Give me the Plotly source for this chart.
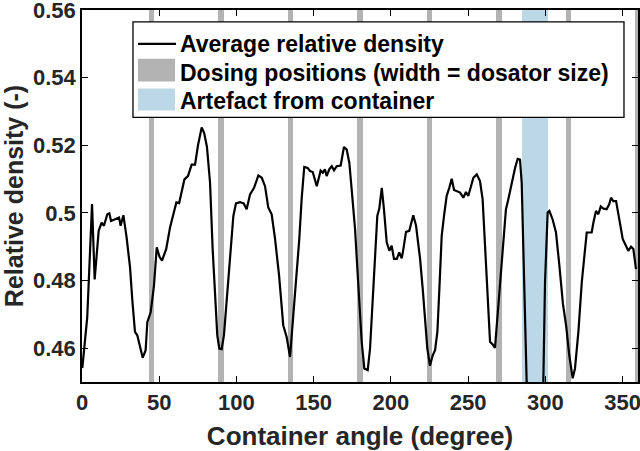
import plotly.graph_objects as go

# Average relative density around the container
angle_deg = [
    0.2, 3.4, 6.5, 8.2, 10.8, 12.7, 14.2, 16.4, 17.7, 18.8, 21.4, 24.0, 25.0, 26.8,
    28.9, 31.1, 32.6, 34.3, 35.8, 37.6, 39.3, 41.2, 42.3, 44.5, 46.6, 48.4, 50.2,
    51.8, 54.5, 57.0, 59.1, 61.1, 62.9, 64.5, 66.3, 68.6, 71.0, 73.2, 75.1, 77.5,
    79.1, 80.9, 82.9, 84.6, 86.1, 87.6, 88.9, 90.4, 91.9, 93.7, 95.8, 98.0, 99.7,
    102.3, 104.7, 106.6, 108.8, 111.4, 114.2, 116.4, 118.5, 120.6, 122.8, 125.0,
    127.6, 129.3, 130.3, 132.5, 134.7, 136.8, 139.0, 140.7, 142.2, 143.9, 146.1,
    147.6, 149.4, 152.0, 154.5, 155.9, 157.3, 158.4, 160.1, 161.7, 163.2, 164.9,
    167.5, 169.6, 171.4, 173.1, 174.6, 176.8, 178.3, 179.6, 181.1, 182.8, 185.0,
    186.5, 188.2, 189.7, 191.2, 192.5, 194.1, 195.5, 197.3, 199.0, 200.5, 202.0,
    203.8, 205.4, 207.0, 207.8, 209.8, 211.9, 214.5, 216.3, 218.9, 220.6, 222.1,
    223.6, 225.3, 227.1, 228.6, 230.1, 231.4, 232.9, 234.4, 236.1, 237.8, 239.4,
    240.9, 242.6, 244.8, 246.9, 248.6, 250.1, 251.7, 253.4, 255.6, 257.7, 259.4,
    260.9, 262.4, 264.2, 265.9, 267.4, 268.9, 270.7, 272.4, 274.5, 276.0, 278.2,
    280.4, 282.1, 283.6, 284.7, 285.7, 286.8, 287.9, 290.0, 297.5, 298.7, 299.8,
    301.5, 302.6, 304.7, 306.9, 309.1, 311.4, 313.5, 315.5, 317.7, 319.2, 321.4,
    323.6, 326.8, 330.0, 331.1, 332.8, 334.3, 335.9, 337.5, 339.7, 341.4, 342.5,
    344.0, 345.8, 347.9, 350.1, 352.2, 353.7, 355.5, 357.0, 358.7,
]
relative_density = [
    0.4541, 0.4692, 0.5026, 0.4803, 0.4947, 0.4971, 0.4962, 0.4996, 0.4999, 0.4976,
    0.4981, 0.4986, 0.4962, 0.4993, 0.4927, 0.4839, 0.4741, 0.4648, 0.4638, 0.4604,
    0.4572, 0.4594, 0.4677, 0.4707, 0.4785, 0.4898, 0.4870, 0.4859, 0.4893, 0.4957,
    0.4998, 0.5031, 0.5029, 0.5065, 0.5099, 0.5109, 0.5143, 0.5143, 0.5200, 0.5253,
    0.5236, 0.5195, 0.5090, 0.4893, 0.4746, 0.4638, 0.4599, 0.4597, 0.4638, 0.4736,
    0.4874, 0.4991, 0.5028, 0.5032, 0.5028, 0.5011, 0.5055, 0.5074, 0.5111, 0.5104,
    0.5079, 0.5016, 0.4996, 0.4923, 0.4815, 0.4717, 0.4668, 0.4633, 0.4574, 0.4697,
    0.4815, 0.4923, 0.5040, 0.5136, 0.5133, 0.5124, 0.5121, 0.5079, 0.5125, 0.5119,
    0.5129, 0.5109, 0.5129, 0.5138, 0.5126, 0.5138, 0.5140, 0.5195, 0.5187, 0.5148,
    0.5070, 0.4952, 0.4834, 0.4717, 0.4619, 0.4540, 0.4535, 0.4599, 0.4736, 0.4874,
    0.4991, 0.5013, 0.5074, 0.5011, 0.4913, 0.4888, 0.4903, 0.4864, 0.4864, 0.4883,
    0.4866, 0.4885, 0.4944, 0.4947, 0.4993, 0.4962, 0.4864, 0.4776, 0.4677, 0.4599,
    0.4548, 0.4579, 0.4594, 0.4648, 0.4776, 0.4932, 0.4991, 0.5050, 0.5074, 0.5101,
    0.5068, 0.5065, 0.5060, 0.5045, 0.5062, 0.5050, 0.5074, 0.5104, 0.5114, 0.5094,
    0.5040, 0.4913, 0.4776, 0.4619, 0.4611, 0.4601, 0.4687, 0.4795, 0.4893, 0.5011,
    0.5040, 0.5089, 0.5133, 0.5160, 0.5158, 0.5089, 0.4893, 0.4648, 0.4501, 0.4300,
    0.4300, 0.4500, 0.4795, 0.5001, 0.5006, 0.4981, 0.4942, 0.4844, 0.4731, 0.4665,
    0.4579, 0.4511, 0.4540, 0.4648, 0.4795, 0.4942, 0.4942, 0.4971, 0.5006, 0.4996,
    0.5019, 0.5013, 0.5011, 0.5026, 0.5045, 0.5035, 0.5035, 0.4981, 0.4923, 0.4903,
    0.4888, 0.4900, 0.4893, 0.4834,
]

dosing_positions = [45, 90, 135, 180, 225, 270, 315, 360]
dosator_width = 3.6
artefact_start, artefact_end = 284.7, 301.5

y_range = [0.45, 0.56]
x_ticks = [0, 50, 100, 150, 200, 250, 300, 350]
y_ticks = [0.46, 0.48, 0.50, 0.52, 0.54, 0.56]
y_tick_text = ["0.46", "0.48", "0.5", "0.52", "0.54", "0.56"]

GRAY = "#b3b3b3"
BLUE_ON_WHITE = "#bcd7e5"
BLUE_OVERLAY = "rgba(121,175,203,0.5)"
FONT = "Liberation Sans"

band_height = y_range[1] - y_range[0]

fig = go.Figure()
fig.add_trace(
    go.Bar(
        x=dosing_positions,
        y=[band_height] * len(dosing_positions),
        base=y_range[0],
        width=dosator_width,
        marker=dict(color=GRAY, line=dict(width=0)),
        showlegend=False,
        hoverinfo="skip",
    )
)
fig.add_trace(
    go.Scatter(
        x=angle_deg,
        y=relative_density,
        mode="lines",
        line=dict(color="black", width=2.2),
        showlegend=False,
    )
)
fig.add_trace(
    go.Bar(
        x=[(artefact_start + artefact_end) / 2],
        y=[band_height],
        base=y_range[0],
        width=artefact_end - artefact_start,
        marker=dict(color=BLUE_OVERLAY, line=dict(width=0)),
        showlegend=False,
        hoverinfo="skip",
    )
)

axis_common = dict(
    showline=True,
    linecolor="black",
    linewidth=1.5,
    mirror="ticks",
    ticks="inside",
    ticklen=6,
    tickwidth=1.3,
    tickcolor="black",
    showgrid=False,
    zeroline=False,
    automargin=False,
    ticklabeloverflow="allow",
    tickfont=dict(family=FONT, size=22, color="#262626", weight="bold"),
)

fig.update_xaxes(
    range=[0, 360],
    tickvals=x_ticks,
    title=dict(text="Container angle (degree)", font=dict(family=FONT, size=26, color="#262626", weight="bold"), standoff=14),
    **axis_common,
)
fig.update_yaxes(
    range=y_range,
    tickvals=y_ticks,
    ticktext=y_tick_text,
    title=dict(text="Relative density (-)", font=dict(family=FONT, size=25, color="#262626", weight="bold"), standoff=5),
    **axis_common,
)

# legend drawn by hand so the swatches match the original box sizes
legend_shapes = [
    dict(type="rect", xref="paper", yref="paper", x0=0.0917, x1=0.9748, y0=0.7112, y1=0.968,
         fillcolor="white", line=dict(color="black", width=1.3), layer="above"),
    dict(type="line", xref="paper", yref="paper", x0=0.1007, x1=0.1691, y0=0.9091, y1=0.9091,
         line=dict(color="black", width=2.2), layer="above"),
    dict(type="rect", xref="paper", yref="paper", x0=0.1007, x1=0.1673, y0=0.8075, y1=0.869,
         fillcolor=GRAY, line=dict(width=0), layer="above"),
    dict(type="rect", xref="paper", yref="paper", x0=0.1007, x1=0.1673, y0=0.73, y1=0.7888,
         fillcolor=BLUE_ON_WHITE, line=dict(width=0), layer="above"),
]
legend_labels = [
    ("Average relative density", 0.9091),
    ("Dosing positions (width = dosator size)", 0.8316),
    ("Artefact from container", 0.7567),
]
for text, ypos in legend_labels:
    fig.add_annotation(
        x=0.1727, y=ypos, xref="paper", yref="paper", text=text, showarrow=False,
        xanchor="left", yanchor="middle",
        font=dict(family=FONT, size=23, color="black", weight="bold"),
    )

fig.update_layout(
    width=640,
    height=451,
    margin=dict(l=82, r=2, t=10, b=69),
    paper_bgcolor="white",
    plot_bgcolor="white",
    barmode="overlay",
    bargap=0,
    shapes=legend_shapes,
)

# the page body has a default 8px margin; drop it so the 640x451 figure fills the window
fig.write_html(
    "out.html",
    config={"displayModeBar": False},
    post_script="document.body.style.margin='0';",
)
